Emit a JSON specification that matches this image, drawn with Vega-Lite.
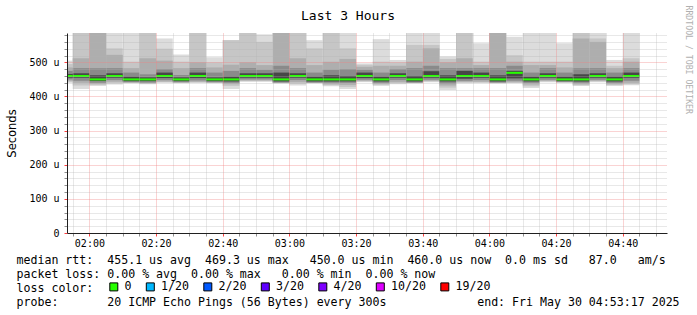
{
  "$schema": "https://vega.github.io/schema/vega-lite/v6.json",
  "autosize": "none",
  "width": 600,
  "height": 200,
  "padding": {"left": 67, "top": 33, "right": 30, "bottom": 82},
  "background": "#ffffff",
  "title": {"text": "Last 3 Hours", "font": "DejaVu Sans Mono", "fontSize": 13, "fontWeight": "normal", "color": "#000000", "anchor": "middle", "frame": "group", "dx": -19, "dy": 39.5, "offset": 12, "baseline": "alphabetic"},
  "config": {"view": {"stroke": null}},
  "datasets": {
    "smoke": [
      {"t":"2025-05-30T01:50:00Z","t2":"2025-05-30T01:55:00Z","med":460,"a1":440,"a2":505,"b1":443,"b2":495,"c1":446,"c2":485,"d1":450,"d2":475,"f1":455,"f2":466,"loss":"0"},
      {"t":"2025-05-30T01:55:00Z","t2":"2025-05-30T02:00:00Z","med":460,"a1":422,"a2":590,"b1":432,"b2":590,"c1":440,"c2":512,"d1":446,"d2":483,"f1":455,"f2":468,"loss":"0"},
      {"t":"2025-05-30T02:00:00Z","t2":"2025-05-30T02:05:00Z","med":450,"a1":431,"a2":590,"b1":434,"b2":590,"c1":437,"c2":590,"d1":440,"d2":483,"f1":445,"f2":462,"loss":"0"},
      {"t":"2025-05-30T02:05:00Z","t2":"2025-05-30T02:10:00Z","med":460,"a1":435,"a2":590,"b1":439,"b2":541,"c1":443,"c2":522,"d1":448,"d2":483,"f1":455,"f2":468,"loss":"0"},
      {"t":"2025-05-30T02:10:00Z","t2":"2025-05-30T02:15:00Z","med":450,"a1":439,"a2":590,"b1":440,"b2":502,"c1":441,"c2":483,"d1":442,"d2":470,"f1":445,"f2":458,"loss":"0"},
      {"t":"2025-05-30T02:15:00Z","t2":"2025-05-30T02:20:00Z","med":450,"a1":436,"a2":590,"b1":438,"b2":590,"c1":439,"c2":512,"d1":441,"d2":465,"f1":445,"f2":456,"loss":"0"},
      {"t":"2025-05-30T02:20:00Z","t2":"2025-05-30T02:25:00Z","med":460,"a1":440,"a2":570,"b1":442,"b2":540,"c1":444,"c2":505,"d1":448,"d2":480,"f1":454,"f2":470,"loss":"0"},
      {"t":"2025-05-30T02:25:00Z","t2":"2025-05-30T02:30:00Z","med":450,"a1":439,"a2":523,"b1":440,"b2":502,"c1":441,"c2":483,"d1":442,"d2":463,"f1":445,"f2":456,"loss":"0"},
      {"t":"2025-05-30T02:30:00Z","t2":"2025-05-30T02:35:00Z","med":460,"a1":440,"a2":590,"b1":441,"b2":590,"c1":443,"c2":500,"d1":447,"d2":483,"f1":454,"f2":470,"loss":"0"},
      {"t":"2025-05-30T02:35:00Z","t2":"2025-05-30T02:40:00Z","med":450,"a1":439,"a2":515,"b1":440,"b2":500,"c1":441,"c2":485,"d1":442,"d2":470,"f1":445,"f2":456,"loss":"0"},
      {"t":"2025-05-30T02:40:00Z","t2":"2025-05-30T02:45:00Z","med":450,"a1":422,"a2":565,"b1":431,"b2":565,"c1":436,"c2":493,"d1":440,"d2":475,"f1":444,"f2":458,"loss":"0"},
      {"t":"2025-05-30T02:45:00Z","t2":"2025-05-30T02:50:00Z","med":460,"a1":443,"a2":590,"b1":445,"b2":590,"c1":447,"c2":500,"d1":450,"d2":483,"f1":455,"f2":468,"loss":"0"},
      {"t":"2025-05-30T02:50:00Z","t2":"2025-05-30T02:55:00Z","med":460,"a1":443,"a2":582,"b1":445,"b2":560,"c1":447,"c2":492,"d1":450,"d2":478,"f1":455,"f2":468,"loss":"0"},
      {"t":"2025-05-30T02:55:00Z","t2":"2025-05-30T03:00:00Z","med":450,"a1":439,"a2":590,"b1":439,"b2":590,"c1":440,"c2":590,"d1":441,"d2":490,"f1":444,"f2":470,"loss":"0"},
      {"t":"2025-05-30T03:00:00Z","t2":"2025-05-30T03:05:00Z","med":460,"a1":432,"a2":590,"b1":437,"b2":590,"c1":442,"c2":512,"d1":448,"d2":483,"f1":455,"f2":468,"loss":"0"},
      {"t":"2025-05-30T03:05:00Z","t2":"2025-05-30T03:10:00Z","med":450,"a1":439,"a2":565,"b1":439,"b2":541,"c1":440,"c2":492,"d1":441,"d2":470,"f1":444,"f2":458,"loss":"0"},
      {"t":"2025-05-30T03:10:00Z","t2":"2025-05-30T03:15:00Z","med":450,"a1":430,"a2":590,"b1":433,"b2":590,"c1":436,"c2":502,"d1":440,"d2":478,"f1":444,"f2":462,"loss":"0"},
      {"t":"2025-05-30T03:15:00Z","t2":"2025-05-30T03:20:00Z","med":450,"a1":422,"a2":590,"b1":428,"b2":541,"c1":434,"c2":510,"d1":440,"d2":480,"f1":444,"f2":460,"loss":"0"},
      {"t":"2025-05-30T03:20:00Z","t2":"2025-05-30T03:25:00Z","med":460,"a1":442,"a2":497,"b1":444,"b2":493,"c1":446,"c2":487,"d1":449,"d2":478,"f1":454,"f2":470,"loss":"0"},
      {"t":"2025-05-30T03:25:00Z","t2":"2025-05-30T03:30:00Z","med":450,"a1":431,"a2":568,"b1":434,"b2":502,"c1":437,"c2":490,"d1":440,"d2":470,"f1":444,"f2":458,"loss":"0"},
      {"t":"2025-05-30T03:30:00Z","t2":"2025-05-30T03:35:00Z","med":460,"a1":436,"a2":507,"b1":439,"b2":500,"c1":442,"c2":490,"d1":448,"d2":480,"f1":455,"f2":468,"loss":"0"},
      {"t":"2025-05-30T03:35:00Z","t2":"2025-05-30T03:40:00Z","med":450,"a1":439,"a2":590,"b1":439,"b2":551,"c1":440,"c2":502,"d1":441,"d2":483,"f1":444,"f2":460,"loss":"0"},
      {"t":"2025-05-30T03:40:00Z","t2":"2025-05-30T03:45:00Z","med":460,"a1":442,"a2":590,"b1":444,"b2":551,"c1":446,"c2":541,"d1":449,"d2":490,"f1":455,"f2":474,"loss":"0"},
      {"t":"2025-05-30T03:45:00Z","t2":"2025-05-30T03:50:00Z","med":450,"a1":419,"a2":517,"b1":426,"b2":510,"c1":432,"c2":500,"d1":438,"d2":483,"f1":444,"f2":462,"loss":"0"},
      {"t":"2025-05-30T03:50:00Z","t2":"2025-05-30T03:55:00Z","med":460,"a1":439,"a2":590,"b1":441,"b2":590,"c1":443,"c2":512,"d1":446,"d2":483,"f1":452,"f2":475,"loss":"0"},
      {"t":"2025-05-30T03:55:00Z","t2":"2025-05-30T04:00:00Z","med":460,"a1":439,"a2":556,"b1":441,"b2":502,"c1":443,"c2":492,"d1":448,"d2":483,"f1":455,"f2":470,"loss":"0"},
      {"t":"2025-05-30T04:00:00Z","t2":"2025-05-30T04:05:00Z","med":450,"a1":439,"a2":590,"b1":439,"b2":590,"c1":440,"c2":590,"d1":441,"d2":483,"f1":444,"f2":462,"loss":"0"},
      {"t":"2025-05-30T04:05:00Z","t2":"2025-05-30T04:10:00Z","med":469.3,"a1":439,"a2":575,"b1":440,"b2":521,"c1":442,"c2":502,"d1":446,"d2":490,"f1":453,"f2":475,"loss":"0"},
      {"t":"2025-05-30T04:10:00Z","t2":"2025-05-30T04:15:00Z","med":450,"a1":425,"a2":590,"b1":430,"b2":502,"c1":435,"c2":492,"d1":440,"d2":470,"f1":444,"f2":458,"loss":"0"},
      {"t":"2025-05-30T04:15:00Z","t2":"2025-05-30T04:20:00Z","med":460,"a1":442,"a2":590,"b1":444,"b2":502,"c1":446,"c2":492,"d1":449,"d2":483,"f1":455,"f2":468,"loss":"0"},
      {"t":"2025-05-30T04:20:00Z","t2":"2025-05-30T04:25:00Z","med":450,"a1":440,"a2":556,"b1":441,"b2":502,"c1":442,"c2":485,"d1":443,"d2":470,"f1":445,"f2":458,"loss":"0"},
      {"t":"2025-05-30T04:25:00Z","t2":"2025-05-30T04:30:00Z","med":450,"a1":431,"a2":590,"b1":433,"b2":590,"c1":436,"c2":570,"d1":440,"d2":483,"f1":444,"f2":465,"loss":"0"},
      {"t":"2025-05-30T04:30:00Z","t2":"2025-05-30T04:35:00Z","med":460,"a1":442,"a2":590,"b1":444,"b2":570,"c1":446,"c2":560,"d1":449,"d2":483,"f1":455,"f2":468,"loss":"0"},
      {"t":"2025-05-30T04:35:00Z","t2":"2025-05-30T04:40:00Z","med":450,"a1":431,"a2":507,"b1":433,"b2":490,"c1":436,"c2":483,"d1":440,"d2":470,"f1":444,"f2":458,"loss":"0"},
      {"t":"2025-05-30T04:40:00Z","t2":"2025-05-30T04:45:00Z","med":460,"a1":433,"a2":590,"b1":436,"b2":512,"c1":440,"c2":502,"d1":446,"d2":483,"f1":455,"f2":470,"loss":"0"}
    ]
  },
  "data": {"name": "smoke"},
  "resolve": {"axis": {"y": "independent"}},
  "encoding": {
    "x": {
      "field": "t", "type": "temporal",
      "scale": {"type": "utc", "domain": [{"year": 2025, "month": 5, "date": 30, "hours": 1, "minutes": 53, "seconds": 17, "utc": true}, {"year": 2025, "month": 5, "date": 30, "hours": 4, "minutes": 53, "seconds": 17, "utc": true}]},
      "axis": {
        "orient": "bottom",
        "tickCount": 36,
        "labelExpr": "utcminutes(datum.value) % 20 === 0 ? utcFormat(datum.value, '%H:%M') : ''",
        "labelFont": "DejaVu Sans Mono", "labelFontSize": 10, "labelColor": "#000000",
        "labelPadding": 2, "labelOverlap": false, "labelBound": false, "labelFlush": false,
        "tickSize": 3,
        "tickColor": {"condition": {"test": "utcminutes(datum.value) % 20 === 0", "value": "#ff4040"}, "value": "#909090"},
        "domainColor": "#202020", "domainWidth": 1,
        "grid": true,
        "gridColor": {"condition": {"test": "utcminutes(datum.value) % 20 === 0", "value": "#f08080"}, "value": "#b0b0b0"},
        "gridOpacity": {"condition": {"test": "utcminutes(datum.value) % 20 === 0", "value": 0.7}, "value": 0.6},
        "gridDash": [1, 1],
        "zindex": 1,
        "title": [
          "median rtt:\u00a0\u00a0455.1 us avg\u00a0\u00a0469.3 us max\u00a0\u00a0\u00a0450.0 us min\u00a0\u00a0460.0 us now\u00a0\u00a00.0 ms sd\u00a0\u00a0\u00a087.0\u00a0\u00a0\u00a0am/s",
          "packet loss: 0.00 % avg\u00a0\u00a00.00 % max\u00a0\u00a0\u00a00.00 % min\u00a0\u00a00.00 % now",
          "loss color:",
          "probe:\u00a0\u00a0\u00a0\u00a0\u00a0\u00a0\u00a020 ICMP Echo Pings (56 Bytes) every 300s\u00a0\u00a0\u00a0\u00a0\u00a0\u00a0\u00a0\u00a0\u00a0\u00a0\u00a0\u00a0\u00a0end: Fri May 30 04:53:17 2025"
        ],
        "titleFont": "DejaVu Sans Mono", "titleFontSize": 11.6, "titleFontWeight": "normal", "titleColor": "#000000",
        "titleAlign": "left", "titleAnchor": "start", "titleBaseline": "alphabetic",
        "titleX": -51, "titleY": 30, "titleLineHeight": 14
      }
    },
    "x2": {"field": "t2"}
  },
  "layer": [
    {
      "mark": {"type": "rect", "color": "#dcdcdc", "clip": true},
      "encoding": {
        "y": {
          "field": "a1", "type": "quantitative",
          "scale": {"domain": [0, 586], "nice": false, "zero": true},
          "axis": {
            "orient": "left",
            "values": [0,20,40,60,80,100,120,140,160,180,200,220,240,260,280,300,320,340,360,380,400,420,440,460,480,500,520,540,560,580],
            "labelExpr": "datum.value % 100 === 0 ? (datum.value === 0 ? '0' : datum.value + ' u') : ''",
            "labelFont": "DejaVu Sans Mono", "labelFontSize": 10, "labelColor": "#000000",
            "labelPadding": 5, "labelOverlap": false, "labelBound": false, "labelFlush": false, "labelBaseline": "middle",
            "tickSize": 3,
            "tickColor": {"condition": {"test": "datum.value % 100 === 0", "value": "#ff4040"}, "value": "#909090"},
            "domainColor": "#202020", "domainWidth": 1,
            "grid": true,
            "gridColor": {"condition": {"test": "datum.value % 100 === 0", "value": "#f08080"}, "value": "#b0b0b0"},
            "gridOpacity": {"condition": {"test": "datum.value % 100 === 0", "value": 0.7}, "value": 0.6},
            "gridDash": [1, 1],
            "zindex": 1,
            "title": "Seconds",
            "titleFont": "DejaVu Sans", "titleFontSize": 11.5, "titleFontWeight": "normal", "titleColor": "#000000",
            "titleAngle": 270, "titleAlign": "center", "titleBaseline": "alphabetic",
            "titleX": -52, "titleY": 100
          }
        },
        "y2": {"field": "a2"}
      }
    },
    {
      "mark": {"type": "rect", "color": "#c6c6c6", "clip": true},
      "encoding": {
        "y": {
          "field": "b1", "type": "quantitative",
          "scale": {"domain": [0, 586], "nice": false, "zero": true},
          "axis": {
            "orient": "right", "domain": false, "ticks": false, "labels": false, "grid": false,
            "title": "RRDTOOL / TOBI OETIKER",
            "titleFont": "DejaVu Sans Mono", "titleFontSize": 8.2, "titleFontWeight": "normal", "titleColor": "#b0b0b0",
            "titleAngle": 90, "titleAlign": "left", "titleBaseline": "middle",
            "titleX": 20, "titleY": -28
          }
        },
        "y2": {"field": "b2"}
      }
    },
    {
      "mark": {"type": "rect", "color": "#aeaeae", "clip": true},
      "encoding": {
        "y": {"field": "c1", "type": "quantitative", "scale": {"domain": [0, 586], "nice": false, "zero": true}, "axis": null},
        "y2": {"field": "c2"}
      }
    },
    {
      "mark": {"type": "rect", "color": "#8a8a8a", "clip": true},
      "encoding": {
        "y": {"field": "d1", "type": "quantitative", "scale": {"domain": [0, 586], "nice": false, "zero": true}, "axis": null},
        "y2": {"field": "d2"}
      }
    },
    {
      "mark": {"type": "rect", "color": "#474747", "clip": true},
      "encoding": {
        "y": {"field": "f1", "type": "quantitative", "scale": {"domain": [0, 586], "nice": false, "zero": true}, "axis": null},
        "y2": {"field": "f2"}
      }
    },
    {
      "mark": {"type": "rule", "strokeWidth": 2, "strokeCap": "butt", "color": "#26ff00", "clip": true},
      "encoding": {
        "y": {"field": "med", "type": "quantitative", "scale": {"domain": [0, 586], "nice": false, "zero": true}, "axis": null}
      }
    },
    {
      "mark": {"type": "square", "filled": true, "opacity": 0, "size": 1, "clip": true},
      "encoding": {
        "x2": null,
        "y": {"field": "med", "type": "quantitative", "scale": {"domain": [0, 586], "nice": false, "zero": true}, "axis": null},
        "color": {
          "field": "loss", "type": "nominal",
          "scale": {"domain": ["0", "1/20", "2/20", "3/20", "4/20", "10/20", "19/20"], "range": ["#26ff00", "#00b8ff", "#0059ff", "#5e00ff", "#7e00ff", "#dd00ff", "#ff0000"]},
          "legend": {
            "orient": "none", "legendX": 41, "legendY": 248,
            "direction": "horizontal", "columns": 7,
            "title": null,
            "labelFont": "DejaVu Sans Mono", "labelFontSize": 11.6, "labelColor": "#000000", "labelOffset": 5,
            "symbolType": "square", "symbolSize": 64, "symbolStrokeWidth": 1, "symbolStrokeColor": "#000000", "symbolOpacity": 1,
            "columnPadding": 11.5, "padding": 0
          }
        }
      }
    }
  ]
}
